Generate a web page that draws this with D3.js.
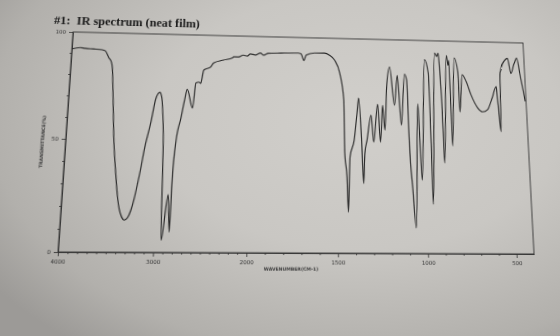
<!DOCTYPE html>
<html><head><meta charset="utf-8">
<script src="https://cdn.jsdelivr.net/npm/d3@7"></script>
<style>
html,body{margin:0;padding:0;width:560px;height:336px;overflow:hidden;}
body{background: radial-gradient(ellipse 80% 85% at 64% 36%, #d1cfcb 0%, #c9c7c3 45%, #b2b0ac 82%, #9c9a97 100%);}
#chart{position:absolute;left:0;top:0;transform-origin:0 0;overflow:visible;}
</style></head><body>
<svg id="chart" width="560" height="336"></svg>
<script>
// ---- text ----
const titleText = "#1:  IR spectrum (neat film)";
const xAxisTitle = "WAVENUMBER(CM-1)";
const yAxisTitle = "TRANSMITTANCE(%)";

// ---- data (wavenumber cm-1, % transmittance) ----
const wavenumbers = [4000,3910,3853,3760,3665,3628,3586,3556,3540,3522,3478,3440,3407,3384,3353,3323,3288,3257,3228,3199,3171,3146,3086,3044,3002,2978,2964,2940,2920,2864,2836,2826,2802,2757,2725,2700,2633,2606,2573,2551,2522,2446,2414,2303,2205,2191,2135,2080,2035,2000,1972,1943,1926,1897,1827,1727,1710,1693,1681,1633,1575,1546,1517,1487,1464,1460,1448,1441,1430,1406,1389,1379,1364,1354,1346,1333,1308,1295,1270,1256,1241,1230,1215,1197,1173,1153,1135,1111,1099,1091,1077,1062,1037,1030,1022,992,972,966,963,932,920,910,905,896,891,862,854,848,842,816,797,793,772,749,724,688,659,630,599,573,569,556,547,511,498,483,460,443,429,405];
const transmittance = [91.9,92.6,92.3,92.1,91.8,91.3,88.1,86.2,83.1,73.8,49.0,34.7,24.2,19.1,15.4,14.0,15.1,18.4,23.5,30.3,37.6,45.2,58.2,69.1,72.2,69.8,64.4,47.6,5.3,25.4,8.9,33.7,49.8,60.5,68.8,73.9,65.1,76.9,77.4,76.9,83.2,84.7,86.7,88.2,89.3,89.8,89.8,90.8,90.4,91.4,91.0,92.0,91.0,92.0,92.2,92.4,92.0,88.8,91.5,92.6,92.7,91.7,89.4,83.1,70.1,45.3,34.2,18.3,43.5,51.4,64.1,71.3,51.4,31.4,45.3,51.4,63.3,50.6,68.5,50.6,68.0,56.3,78.4,86.6,68.2,82.6,58.8,83.3,80.4,50.9,29.4,11.4,69.1,52.0,33.2,90.6,84.2,56.6,22.2,94.0,92.3,94.0,87.1,66.3,41.3,92.9,88.0,90.5,49.3,91.8,85.0,65.5,83.6,80.2,73.9,67.7,65.8,66.9,72.8,78.2,72.7,56.4,85.0,91.6,92.1,84.7,89.7,92.3,85.0,71.2];

// ---- axes ----
const xDomain = [4000, 2000, 400];
const xTickLabels = [4000, 3000, 2000, 1500, 1000, 500];
const yDomain = [0, 100];
const yTickLabels = [0, 50, 100];

// ---- layout (flat chart, then photographed-page perspective) ----
const L = 58, R = 534, T = 32, B = 252;
const xScale = d3.scaleLinear().domain(xDomain).range([L, 241.3, R]);
const yScale = d3.scaleLinear().domain(yDomain).range([B, T]);

const svg = d3.select('#chart');
const ink = '#303030';
const fontSans = 'DejaVu Sans, sans-serif';

// perspective of the photographed page
function solveLinear(A, b) {
  const n = b.length;
  const M = A.map((row, i) => row.concat([b[i]]));
  for (let c = 0; c < n; c++) {
    let p = c;
    for (let r = c + 1; r < n; r++) if (Math.abs(M[r][c]) > Math.abs(M[p][c])) p = r;
    [M[c], M[p]] = [M[p], M[c]];
    for (let r = 0; r < n; r++) {
      if (r === c) continue;
      const f = M[r][c] / M[c][c];
      for (let k = c; k <= n; k++) M[r][k] -= f * M[c][k];
    }
  }
  return M.map((row, i) => row[n] / row[i]);
}
const srcQ = [[L, T], [R, T], [R, B], [L, B]];
const dstQ = [[73, 32], [523, 43], [534, 254], [58, 252]];
const A = [], bb = [];
srcQ.forEach(([x, y], i) => {
  const [u, v] = dstQ[i];
  A.push([x, y, 1, 0, 0, 0, -u * x, -u * y]); bb.push(u);
  A.push([0, 0, 0, x, y, 1, -v * x, -v * y]); bb.push(v);
});
const [ha, hb, hc, hd, he, hf, hg, hh] = solveLinear(A, bb);
svg.style('transform', `matrix3d(${ha},${hd},0,${hg},${hb},${he},0,${hh},0,0,1,0,${hc},${hf},0,1)`);

// frame
svg.append('rect').attr('x', L).attr('y', T).attr('width', R - L).attr('height', B - T)
  .attr('fill', 'none').attr('stroke', ink).attr('stroke-width', 0.9);

// x axis: minor ticks
const xMinor = d3.range(500, 4000, 100).filter(v => !xTickLabels.includes(v));
svg.append('g').attr('transform', `translate(0,${B})`)
  .call(d3.axisBottom(xScale).tickValues(xMinor).tickSize(2).tickSizeOuter(0).tickFormat(''))
  .call(g => g.select('.domain').remove())
  .call(g => g.selectAll('line').attr('stroke', ink).attr('stroke-width', 0.8));
// x axis: labelled ticks
svg.append('g').attr('transform', `translate(0,${B})`)
  .call(d3.axisBottom(xScale).tickValues(xTickLabels).tickSize(4).tickSizeOuter(0).tickFormat(d3.format('d')))
  .call(g => g.select('.domain').attr('stroke', ink).attr('stroke-width', 0.9))
  .call(g => g.selectAll('line').attr('stroke', ink).attr('stroke-width', 0.8))
  .call(g => g.selectAll('text').attr('font-family', fontSans).attr('font-size', 5.5).attr('fill', '#333'));

// y axis
const yMinor = d3.range(10, 100, 10).filter(v => !yTickLabels.includes(v));
svg.append('g').attr('transform', `translate(${L},0)`)
  .call(d3.axisLeft(yScale).tickValues(yMinor).tickSize(2).tickSizeOuter(0).tickFormat(''))
  .call(g => g.select('.domain').remove())
  .call(g => g.selectAll('line').attr('stroke', ink).attr('stroke-width', 0.8));
svg.append('g').attr('transform', `translate(${L},0)`)
  .call(d3.axisLeft(yScale).tickValues(yTickLabels).tickSize(4).tickSizeOuter(0).tickFormat(d3.format('d')))
  .call(g => g.select('.domain').attr('stroke', ink).attr('stroke-width', 0.9))
  .call(g => g.selectAll('line').attr('stroke', ink).attr('stroke-width', 0.8))
  .call(g => g.selectAll('text').attr('font-family', fontSans).attr('font-size', 5.5).attr('fill', '#333'));

// axis titles
svg.append('text').attr('x', 286).attr('y', 269).attr('text-anchor', 'middle')
  .attr('font-family', fontSans).attr('font-size', 4.6).attr('font-weight', 'bold')
  .attr('fill', '#3a3a3a').text(xAxisTitle);
svg.append('text').attr('transform', 'translate(37,145) rotate(-90)').attr('text-anchor', 'middle')
  .attr('font-family', fontSans).attr('font-size', 4.6).attr('font-weight', 'bold')
  .attr('fill', '#3a3a3a').text(yAxisTitle);

// title
svg.append('text').attr('x', 38).attr('y', 24.5)
  .attr('font-family', 'Liberation Serif, serif').attr('font-size', 12.6).attr('font-weight', 'bold')
  .attr('fill', '#1a1a1a').style('white-space', 'pre').text(titleText);

// spectrum
const pts = wavenumbers.map((w, i) => [w, transmittance[i]]);
const line = d3.line().x(d => xScale(d[0])).y(d => yScale(d[1])).curve(d3.curveMonotoneX);
svg.append('path').datum(pts).attr('d', line)
  .attr('fill', 'none').attr('stroke', '#262626').attr('stroke-width', 1.15)
  .attr('stroke-linejoin', 'round');
</script>
</body></html>
